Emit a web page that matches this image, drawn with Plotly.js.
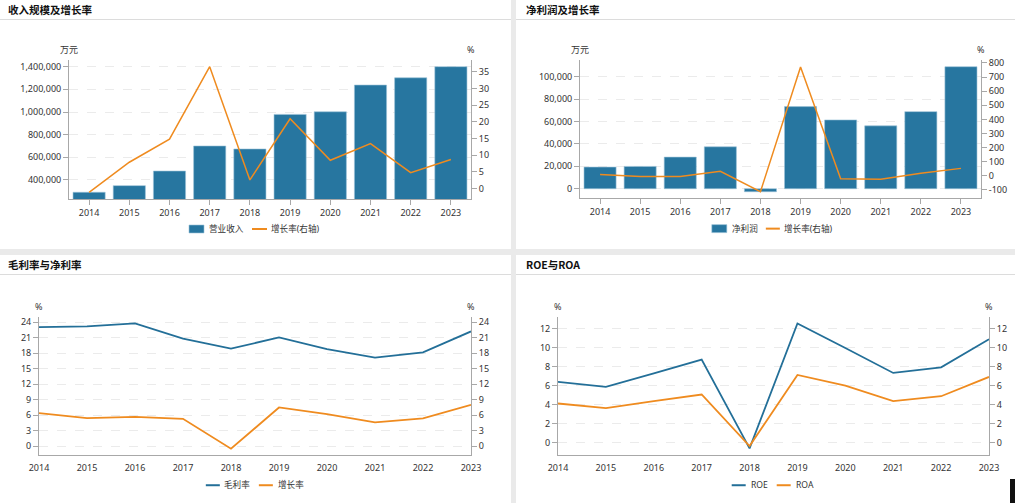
<!DOCTYPE html>
<html><head><meta charset="utf-8">
<script src="https://cdn.plot.ly/plotly-3.0.1.min.js"></script>
<style>
html,body{margin:0;padding:0;width:1015px;height:503px;background:#eaeaea;overflow:hidden;font-family:"Noto Sans CJK SC","Noto Sans",sans-serif;}
.panel{position:absolute;background:#fff;}
.ttl{position:absolute;left:8px;top:2px;font-size:10.5px;font-weight:bold;color:#111;line-height:16px;}
.sep{position:absolute;left:0;right:0;top:19px;height:1px;background:#dcdcdc;}
.plot{position:absolute;left:0;top:0;}
</style></head><body>
<div class="panel" id="p1" style="left:0;top:0;width:511px;height:249px;"><div class="plot" id="c1"></div><div class="ttl">收入规模及增长率</div><div class="sep"></div></div>
<div class="panel" id="p2" style="left:516px;top:0;width:499px;height:249px;"><div class="plot" id="c2"></div><div class="ttl" style="left:10px">净利润及增长率</div><div class="sep"></div></div>
<div class="panel" id="p3" style="left:0;top:255px;width:511px;height:248px;"><div class="plot" id="c3"></div><div class="ttl">毛利率与净利率</div><div class="sep"></div></div>
<div class="panel" id="p4" style="left:516px;top:255px;width:499px;height:248px;"><div class="plot" id="c4"></div><div class="ttl" style="left:10px">ROE与ROA</div><div class="sep"></div></div>
<div style="position:absolute;left:1010px;top:479px;width:5px;height:24px;background:#111;"></div>
<script>
// ---- data ----
const years = ['2014','2015','2016','2017','2018','2019','2020','2021','2022','2023'];
const revenue = [291500, 350000, 479000, 700000, 673500, 979000, 1002000, 1238000, 1302000, 1400000];
const revenueGrowth = [-1.1, 7.9, 14.8, 36.5, 2.6, 20.9, 8.5, 13.5, 4.8, 8.7];
const netProfit = [19300, 19900, 28200, 37400, -2700, 73300, 61400, 56100, 68800, 108900];
const profitGrowth = [9, -5, -5, 32, -112, 772, -20, -24, 18, 53];
const grossMargin = [23.03, 23.17, 23.75, 20.79, 18.86, 21.04, 18.78, 17.12, 18.15, 22.2];
const netMargin = [6.37, 5.4, 5.66, 5.27, -0.52, 7.47, 6.18, 4.57, 5.34, 7.97];
const roe = [6.36, 5.84, 7.27, 8.71, -0.63, 12.52, 9.93, 7.31, 7.9, 10.85];
const roa = [4.09, 3.6, 4.34, 5.04, -0.39, 7.1, 5.98, 4.34, 4.86, 6.89];
const revTicks = [400000, 600000, 800000, 1000000, 1200000, 1400000];
const revGrowthTicks = [0, 5, 10, 15, 20, 25, 30, 35];
const npTicks = [0, 20000, 40000, 60000, 80000, 100000];
const npGrowthTicks = [-100, 0, 100, 200, 300, 400, 500, 600, 700, 800];
const marginTicks = [0, 3, 6, 9, 12, 15, 18, 21, 24];
const roeTicks = [0, 2, 4, 6, 8, 10, 12];

const BLUE = '#2776a0', ORANGE = '#ef8b1f', LBLUE = '#236f98';
const FAM = '"Noto Sans","Noto Sans CJK SC",sans-serif';
const FONT = {family: FAM, size: 9, color: '#333'};
const AX = '#a8a8a8';
const fmt = v => String(v).replace(/\B(?=(\d{3})+(?!\d))/g, ',');

function yAxis(range, ticks, side, grid) {
  const a = {range: range, tickvals: ticks, ticktext: ticks.map(fmt), side: side,
    showline: true, linecolor: AX, linewidth: 1, ticks: 'outside', ticklen: 5, tickcolor: AX,
    showgrid: grid, gridcolor: '#ebebeb', griddash: 'dash', zeroline: false, fixedrange: true,
    tickfont: FONT};
  if (side === 'right') { a.overlaying = 'y'; }
  return a;
}
function unitAnn(text, x) {
  return {text: text, xref: 'paper', yref: 'paper', x: x, y: 1, xanchor: 'center', yanchor: 'middle',
    yshift: 11, showarrow: false, font: FONT};
}
function baseLayout(w, h, m) {
  m.autoexpand = false; m.pad = 0;
  return {width: w, height: h, margin: m, paper_bgcolor: 'rgba(0,0,0,0)', plot_bgcolor: '#fff',
    font: FONT, showlegend: false, hovermode: false, shapes: [], annotations: []};
}
// legend drawn from pixel positions inside panel
function addLegend(L, cy, items) {
  const m = L.margin, pw = L.width - m.l - m.r, ph = L.height - m.t - m.b;
  const px = x => (x - m.l) / pw, py = y => (L.height - m.b - y) / ph;
  items.forEach(it => {
    if (it.kind === 'bar') {
      L.shapes.push({type: 'rect', xref: 'paper', yref: 'paper', x0: px(it.x0), x1: px(it.x1), y0: py(cy - 4), y1: py(cy + 4),
        fillcolor: it.color, line: {width: 0.6, color: '#9cc3d8'}});
    } else {
      L.shapes.push({type: 'line', xref: 'paper', yref: 'paper', x0: px(it.x0), x1: px(it.x1), y0: py(cy), y1: py(cy),
        line: {width: 2, color: it.color}});
    }
    L.annotations.push({text: it.text, xref: 'paper', yref: 'paper', x: px(it.tx), y: py(cy), xanchor: 'left', yanchor: 'middle',
      showarrow: false, font: {family: FAM, size: 8.6, color: '#333'}});
  });
}
const cfg = {staticPlot: true, displayModeBar: false};
const catX = {type: 'category', showline: true, linecolor: AX, ticks: 'outside', ticklen: 5, tickcolor: AX, showgrid: false, tickfont: FONT, fixedrange: true};
const lineX = {type: 'category', range: [0, 9], showline: true, linecolor: AX, ticks: 'outside', ticklen: 4, tickcolor: 'rgba(0,0,0,0)', showgrid: false, tickfont: FONT, fixedrange: true};

// Panel 1
(function(){
  const L = baseLayout(511, 249, {l: 69, r: 40, t: 60, b: 50});
  L.bargap = 0.2;
  L.xaxis = Object.assign({}, catX);
  L.yaxis = yAxis([232000, 1459000], revTicks, 'left', true);
  L.yaxis2 = yAxis([-3.1, 38.5], revGrowthTicks, 'right', false);
  L.annotations.push(unitAnn('万元', 0), unitAnn('%', 1));
  addLegend(L, 229, [
    {kind: 'bar', color: BLUE, x0: 189, x1: 204, tx: 207, text: '营业收入'},
    {kind: 'line', color: ORANGE, x0: 252, x1: 267, tx: 269, text: '增长率(右轴)'}]);
  Plotly.newPlot('c1', [
    {type: 'bar', x: years, y: revenue, name: '营业收入', marker: {color: BLUE, line: {width: 0.6, color: '#9cc3d8'}}},
    {type: 'scatter', mode: 'lines', x: years, y: revenueGrowth, name: '增长率(右轴)', yaxis: 'y2', line: {color: ORANGE, width: 1.5}}
  ], L, cfg);
})();

// Panel 2
(function(){
  const L = baseLayout(499, 249, {l: 64.3, r: 34, t: 60, b: 50.7});
  L.bargap = 0.2;
  L.xaxis = Object.assign({}, catX);
  L.yaxis = yAxis([-8300, 114900], npTicks, 'left', true);
  L.yaxis2 = yAxis([-157, 821], npGrowthTicks, 'right', false);
  L.annotations.push(unitAnn('万元', 0), unitAnn('%', 1));
  addLegend(L, 229, [
    {kind: 'bar', color: BLUE, x0: 196, x1: 211, tx: 214, text: '净利润'},
    {kind: 'line', color: ORANGE, x0: 250, x1: 264, tx: 266, text: '增长率(右轴)'}]);
  Plotly.newPlot('c2', [
    {type: 'bar', x: years, y: netProfit, name: '净利润', marker: {color: BLUE, line: {width: 0.6, color: '#9cc3d8'}}},
    {type: 'scatter', mode: 'lines', x: years, y: profitGrowth, name: '增长率(右轴)', yaxis: 'y2', line: {color: ORANGE, width: 1.5}}
  ], L, cfg);
})();

// Panel 3
(function(){
  const L = baseLayout(511, 248, {l: 39.3, r: 40, t: 61.7, b: 48});
  L.xaxis = Object.assign({}, lineX);
  L.yaxis = yAxis([-1.74, 25], marginTicks, 'left', true);
  L.yaxis2 = yAxis([-1.74, 25], marginTicks, 'right', false);
  L.annotations.push(unitAnn('%', 0), unitAnn('%', 1));
  addLegend(L, 230.3, [
    {kind: 'line', color: LBLUE, x0: 206, x1: 220, tx: 222, text: '毛利率'},
    {kind: 'line', color: ORANGE, x0: 259, x1: 273, tx: 276, text: '增长率'}]);
  Plotly.newPlot('c3', [
    {type: 'scatter', mode: 'lines', x: years, y: grossMargin, name: '毛利率', line: {color: LBLUE, width: 1.8}, cliponaxis: false},
    {type: 'scatter', mode: 'lines', x: years, y: netMargin, name: '增长率', line: {color: ORANGE, width: 1.8}, cliponaxis: false},
    {type: 'scatter', mode: 'lines', x: years, y: netMargin, yaxis: 'y2', showlegend: false, hoverinfo: 'skip', line: {width: 0}, opacity: 0}
  ], L, cfg);
})();

// Panel 4
(function(){
  const L = baseLayout(499, 248, {l: 42.3, r: 25.7, t: 61.7, b: 48});
  L.xaxis = Object.assign({}, lineX);
  L.yaxis = yAxis([-1.33, 13.2], roeTicks, 'left', true);
  L.yaxis2 = yAxis([-1.33, 13.2], roeTicks, 'right', false);
  L.annotations.push(unitAnn('%', 0), unitAnn('%', 1));
  addLegend(L, 230.3, [
    {kind: 'line', color: LBLUE, x0: 216, x1: 230, tx: 233, text: 'ROE'},
    {kind: 'line', color: ORANGE, x0: 261, x1: 275, tx: 278, text: 'ROA'}]);
  Plotly.newPlot('c4', [
    {type: 'scatter', mode: 'lines', x: years, y: roe, name: 'ROE', line: {color: LBLUE, width: 1.8}, cliponaxis: false},
    {type: 'scatter', mode: 'lines', x: years, y: roa, name: 'ROA', line: {color: ORANGE, width: 1.8}, cliponaxis: false},
    {type: 'scatter', mode: 'lines', x: years, y: roa, yaxis: 'y2', showlegend: false, hoverinfo: 'skip', line: {width: 0}, opacity: 0}
  ], L, cfg);
})();
</script>
</body></html>
